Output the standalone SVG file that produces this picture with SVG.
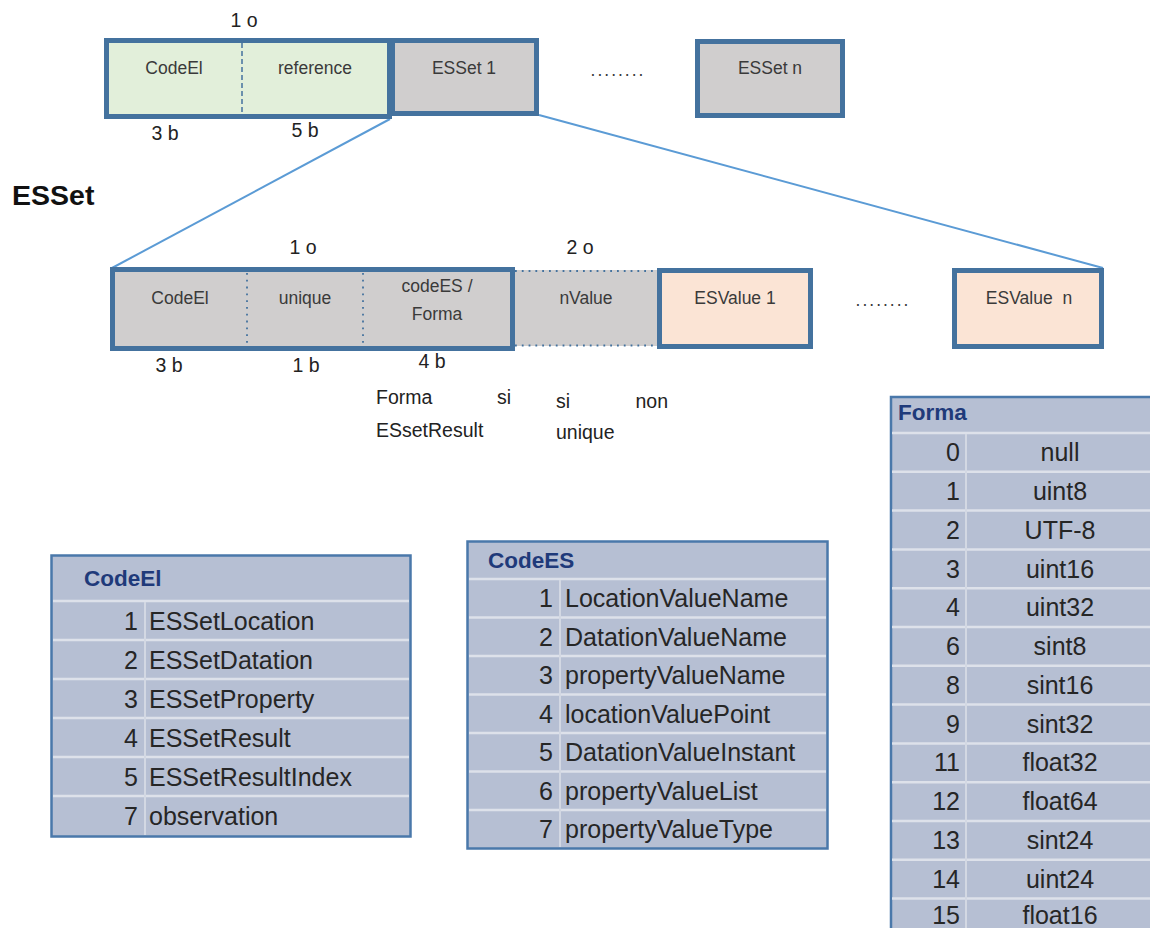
<svg xmlns="http://www.w3.org/2000/svg" width="1150" height="928" viewBox="0 0 1150 928">
<style>
.lbl{font-family:"Liberation Sans",Arial,sans-serif;font-size:17.5px;fill:#3a3a3a;text-anchor:middle}
.sz{font-family:"Liberation Sans",Arial,sans-serif;font-size:19.5px;fill:#222}
.box{stroke:#44729e;stroke-width:5}
.gray{fill:#d0cece}
.green{fill:#e2efda}
.peach{fill:#fbe4d5}
.dash{stroke:#44729e;stroke-width:1.5;stroke-dasharray:5 3;fill:none}
.dot{stroke:#44729e;stroke-width:1.8;stroke-dasharray:1.8 5;fill:none}
.conn{stroke:#5b9bd5;stroke-width:2;fill:none}
.tbl{fill:#b6bfd3;stroke:#4a78aa;stroke-width:2.5}
.rl{stroke:#dde1ea;stroke-width:2.5}
.cl{stroke:#d3d8e3;stroke-width:2}
.th{font-family:"Liberation Sans",Arial,sans-serif;font-weight:bold;font-size:22.5px;fill:#1f3a7a}
.tn{font-family:"Liberation Sans",Arial,sans-serif;font-size:25px;fill:#262626;text-anchor:end}
.tt{font-family:"Liberation Sans",Arial,sans-serif;font-size:25px;fill:#262626}
.tc{font-family:"Liberation Sans",Arial,sans-serif;font-size:25px;fill:#262626;text-anchor:middle}
</style>
<rect width="1150" height="928" fill="#ffffff"/>

<g id="connectors">
<line class="conn" x1="390" y1="119" x2="112" y2="268"/>
<line class="conn" x1="539" y1="115" x2="1103" y2="268"/>
</g>

<g id="top-header">
<rect class="box green" x="106.5" y="40.5" width="283" height="76"/>
<line class="dash" x1="242" y1="43" x2="242" y2="114"/>
<text class="lbl" x="174" y="74">CodeEl</text>
<text class="lbl" x="315" y="74">reference</text>
<text class="sz" x="244" y="27" text-anchor="middle">1 o</text>
<text class="sz" x="165" y="140" text-anchor="middle">3 b</text>
<text class="sz" x="305" y="137" text-anchor="middle">5 b</text>
</g>
<g id="esset1">
<rect class="box gray" x="392.5" y="40.5" width="144" height="73"/>
<text class="lbl" x="464" y="74">ESSet 1</text>
</g>
<text class="lbl" x="618" y="76" letter-spacing="2">........</text>
<g id="essetn">
<rect class="box gray" x="697.5" y="41.5" width="145" height="74"/>
<text class="lbl" x="770" y="74">ESSet n</text>
</g>

<text x="12" y="205" font-family="'Liberation Sans',Arial,sans-serif" font-weight="bold" font-size="28.5" fill="#111">ESSet</text>

<g id="esset-head">
<rect class="gray" x="513" y="270" width="146" height="76"/>
<line class="dot" x1="515" y1="271" x2="657" y2="271"/>
<line class="dot" x1="515" y1="345.5" x2="657" y2="345.5"/>
<text class="lbl" x="586" y="304">nValue</text>
<rect class="box gray" x="112.5" y="269.5" width="400" height="79"/>
<line class="dot" x1="247" y1="273" x2="247" y2="346"/>
<line class="dot" x1="363" y1="273" x2="363" y2="346"/>
<text class="lbl" x="180" y="304">CodeEl</text>
<text class="lbl" x="305" y="304">unique</text>
<text class="lbl" x="437" y="292">codeES /</text>
<text class="lbl" x="437" y="320">Forma</text>
<text class="sz" x="303" y="254" text-anchor="middle">1 o</text>
<text class="sz" x="580" y="254" text-anchor="middle">2 o</text>
<text class="sz" x="169" y="372" text-anchor="middle">3 b</text>
<text class="sz" x="306" y="372" text-anchor="middle">1 b</text>
<text class="sz" x="432" y="368" text-anchor="middle">4 b</text>
<text class="sz" x="376" y="404">Forma</text>
<text class="sz" x="511" y="404" text-anchor="end">si</text>
<text class="sz" x="376" y="437">ESsetResult</text>
<text class="sz" x="556" y="408">si</text>
<text class="sz" x="668" y="408" text-anchor="end">non</text>
<text class="sz" x="556" y="439">unique</text>
</g>
<g id="esvalue1">
<rect class="box peach" x="659.5" y="270.5" width="151" height="76"/>
<text class="lbl" x="735" y="304">ESValue 1</text>
</g>
<text class="lbl" x="883" y="306" letter-spacing="2">........</text>
<g id="esvaluen">
<rect class="box peach" x="954.5" y="270.5" width="147" height="76"/>
<text class="lbl" x="1029" y="304" style="white-space:pre">ESValue  n</text>
</g>

<g id="table-codeel">
<rect class="tbl" x="51.5" y="555.5" width="359" height="281"/>
<line class="rl" x1="53" y1="601" x2="409" y2="601"/>
<line class="rl" x1="53" y1="640" x2="409" y2="640"/>
<line class="rl" x1="53" y1="679" x2="409" y2="679"/>
<line class="rl" x1="53" y1="718" x2="409" y2="718"/>
<line class="rl" x1="53" y1="757" x2="409" y2="757"/>
<line class="rl" x1="53" y1="796" x2="409" y2="796"/>
<line class="cl" x1="145" y1="602" x2="145" y2="835"/>
<text class="th" x="84" y="586">CodeEl</text>
<text class="tn" x="138" y="630">1</text><text class="tt" x="149" y="630">ESSetLocation</text>
<text class="tn" x="138" y="669">2</text><text class="tt" x="149" y="669">ESSetDatation</text>
<text class="tn" x="138" y="708">3</text><text class="tt" x="149" y="708">ESSetProperty</text>
<text class="tn" x="138" y="747">4</text><text class="tt" x="149" y="747">ESSetResult</text>
<text class="tn" x="138" y="786">5</text><text class="tt" x="149" y="786">ESSetResultIndex</text>
<text class="tn" x="138" y="825">7</text><text class="tt" x="149" y="825">observation</text>
</g>

<g id="table-codees">
<rect class="tbl" x="467.5" y="541.5" width="360" height="307"/>
<line class="rl" x1="469" y1="579" x2="826" y2="579"/>
<line class="rl" x1="469" y1="617.5" x2="826" y2="617.5"/>
<line class="rl" x1="469" y1="656" x2="826" y2="656"/>
<line class="rl" x1="469" y1="694.5" x2="826" y2="694.5"/>
<line class="rl" x1="469" y1="733" x2="826" y2="733"/>
<line class="rl" x1="469" y1="771.5" x2="826" y2="771.5"/>
<line class="rl" x1="469" y1="810" x2="826" y2="810"/>
<line class="cl" x1="560" y1="580" x2="560" y2="847"/>
<text class="th" x="488" y="568">CodeES</text>
<text class="tn" x="553" y="607">1</text><text class="tt" x="565" y="607">LocationValueName</text>
<text class="tn" x="553" y="646">2</text><text class="tt" x="565" y="646">DatationValueName</text>
<text class="tn" x="553" y="684">3</text><text class="tt" x="565" y="684">propertyValueName</text>
<text class="tn" x="553" y="723">4</text><text class="tt" x="565" y="723">locationValuePoint</text>
<text class="tn" x="553" y="761">5</text><text class="tt" x="565" y="761">DatationValueInstant</text>
<text class="tn" x="553" y="800">6</text><text class="tt" x="565" y="800">propertyValueList</text>
<text class="tn" x="553" y="838">7</text><text class="tt" x="565" y="838">propertyValueType</text>
</g>

<g id="table-forma">
<rect class="tbl" x="891" y="397" width="270" height="560"/>
<line class="rl" x1="892" y1="433" x2="1150" y2="433"/>
<line class="rl" x1="892" y1="471.8" x2="1150" y2="471.8"/>
<line class="rl" x1="892" y1="510.6" x2="1150" y2="510.6"/>
<line class="rl" x1="892" y1="549.4" x2="1150" y2="549.4"/>
<line class="rl" x1="892" y1="588.2" x2="1150" y2="588.2"/>
<line class="rl" x1="892" y1="627" x2="1150" y2="627"/>
<line class="rl" x1="892" y1="665.8" x2="1150" y2="665.8"/>
<line class="rl" x1="892" y1="704.6" x2="1150" y2="704.6"/>
<line class="rl" x1="892" y1="743.4" x2="1150" y2="743.4"/>
<line class="rl" x1="892" y1="782.2" x2="1150" y2="782.2"/>
<line class="rl" x1="892" y1="821" x2="1150" y2="821"/>
<line class="rl" x1="892" y1="859.8" x2="1150" y2="859.8"/>
<line class="rl" x1="892" y1="898.6" x2="1150" y2="898.6"/>
<line class="cl" x1="966" y1="434" x2="966" y2="928"/>
<text class="th" x="898" y="420">Forma</text>
<text class="tn" x="960" y="461">0</text><text class="tc" x="1060" y="461">null</text>
<text class="tn" x="960" y="500">1</text><text class="tc" x="1060" y="500">uint8</text>
<text class="tn" x="960" y="539">2</text><text class="tc" x="1060" y="539">UTF-8</text>
<text class="tn" x="960" y="578">3</text><text class="tc" x="1060" y="578">uint16</text>
<text class="tn" x="960" y="616">4</text><text class="tc" x="1060" y="616">uint32</text>
<text class="tn" x="960" y="655">6</text><text class="tc" x="1060" y="655">sint8</text>
<text class="tn" x="960" y="694">8</text><text class="tc" x="1060" y="694">sint16</text>
<text class="tn" x="960" y="733">9</text><text class="tc" x="1060" y="733">sint32</text>
<text class="tn" x="960" y="771">11</text><text class="tc" x="1060" y="771">float32</text>
<text class="tn" x="960" y="810">12</text><text class="tc" x="1060" y="810">float64</text>
<text class="tn" x="960" y="849">13</text><text class="tc" x="1060" y="849">sint24</text>
<text class="tn" x="960" y="888">14</text><text class="tc" x="1060" y="888">uint24</text>
<text class="tn" x="960" y="924" font-size="24">15</text><text class="tc" x="1060" y="924" font-size="24">float16</text>
</g>
</svg>
